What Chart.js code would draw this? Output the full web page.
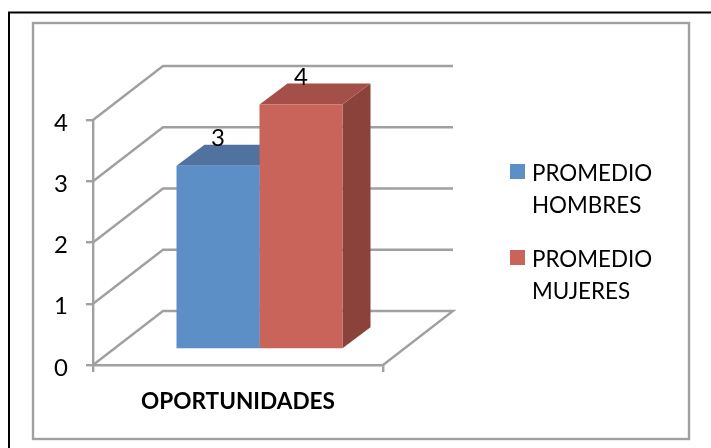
<!DOCTYPE html>
<html><head><meta charset="utf-8">
<style>html,body{margin:0;padding:0;background:#fff}#w{width:711px;height:448px;position:relative}</style>
<script src="https://cdn.jsdelivr.net/npm/chart.js@4"></script>
</head><body><div id="w"><canvas id="c" width="711" height="448"></canvas></div>
<script>
const categories = ['OPORTUNIDADES'];
const hombres = [3];
const mujeres = [4];
const seriesNames = [['PROMEDIO','HOMBRES'],['PROMEDIO','MUJERES']];
const yTicks = [0,1,2,3,4];

const FONT = 'Lato, Carlito, sans-serif';
const GREY = '#a0a0a0';
const LINE = 2.4;
const WALL = {dx:70, dy:-54};      // back wall offset
const FLOOR = {dx:21.5, dy:-15.5}; // bar placement on the floor
const DEPTH = {dx:28, dy:-21};     // bar depth
const FACES = [{top:'#4f729e', side:'#456488'},{top:'#a44f47', side:'#8a423a'}];
const LEGEND = [{box:164, text:174},{box:250, text:260}];

function poly(ctx, pts, fill){
  ctx.beginPath();
  pts.forEach((p,i)=> i ? ctx.lineTo(p[0],p[1]) : ctx.moveTo(p[0],p[1]));
  ctx.closePath(); ctx.fillStyle = fill; ctx.fill();
}

const scene = {
  id:'scene',
  beforeDraw(chart){
    const c = chart.ctx;
    c.save();
    c.strokeStyle = '#000'; c.lineWidth = 2;
    c.beginPath(); c.moveTo(9,448); c.lineTo(9,12.5); c.lineTo(711,12.5); c.stroke();
    c.strokeStyle = GREY; c.lineWidth = 2.4;
    c.strokeRect(33,23,656,416);
    c.restore();
  },
  beforeDatasetsDraw(chart){
    const c = chart.ctx, a = chart.chartArea, y = chart.scales.y;
    c.save();
    c.strokeStyle = GREY; c.lineWidth = LINE;
    yTicks.forEach(t=>{
      const py = y.getPixelForValue(t);
      c.beginPath();
      c.moveTo(a.left,py);
      c.lineTo(a.left+WALL.dx,py+WALL.dy);
      c.lineTo(a.right+WALL.dx,py+WALL.dy);
      if(t===0) c.lineTo(a.right,py);
      c.stroke();
    });
    c.restore();
    c.save();
    c.translate(FLOOR.dx,FLOOR.dy);
    chart.data.datasets.forEach((d,i)=>{
      chart.getDatasetMeta(i).data.forEach(b=>{
        const h = b.width/2, L=b.x-h, R=b.x+h, T=b.y, B=b.base;
        poly(c,[[R,T],[R+DEPTH.dx,T+DEPTH.dy],[R+DEPTH.dx,B+DEPTH.dy],[R,B]],FACES[i].side);
        poly(c,[[L,T],[L+DEPTH.dx,T+DEPTH.dy],[R+DEPTH.dx,T+DEPTH.dy],[R,T]],FACES[i].top);
      });
    });
  },
  afterDatasetsDraw(chart){
    const c = chart.ctx;
    c.fillStyle = '#000';
    c.font = '24px '+FONT;
    c.textAlign='center'; c.textBaseline='middle';
    chart.data.datasets.forEach((d,i)=>{
      chart.getDatasetMeta(i).data.forEach((b,j)=>{
        c.fillText(String(d.data[j]), b.x, b.y-27);
      });
    });
    c.restore();
  },
  afterDraw(chart){
    const c = chart.ctx;
    c.save();
    c.textAlign='left'; c.textBaseline='middle';
    c.font='22.4px '+FONT;
    chart.data.datasets.forEach((d,i)=>{
      c.fillStyle=d.backgroundColor;
      c.fillRect(510,LEGEND[i].box,15,15);
      c.fillStyle='#000';
      seriesNames[i].forEach((s,k)=>c.fillText(s,532,LEGEND[i].text+k*32));
    });
    c.restore();
  }
};

new Chart(document.getElementById('c'),{
  type:'bar',
  data:{labels:categories,datasets:[
    {label:seriesNames[0].join(' '),data:hombres,backgroundColor:'#5b8fc5',clip:false},
    {label:seriesNames[1].join(' '),data:mujeres,backgroundColor:'#c9645b',clip:false}
  ]},
  options:{
    responsive:false,animation:false,
    layout:{padding:{top:120,right:328,bottom:0,left:0}},
    datasets:{bar:{categoryPercentage:166/290,barPercentage:1}},
    plugins:{legend:{display:false},title:{display:false},tooltip:{enabled:false}},
    scales:{
      x:{
        afterFit(s){s.height=83;},
        border:{color:GREY,width:LINE},
        grid:{drawOnChartArea:false,color:GREY,lineWidth:LINE,tickLength:7},
        ticks:{color:'#000',font:{family:FONT,size:22.6,weight:'bold'},padding:16,maxRotation:0}
      },
      y:{
        min:0,max:4,
        afterFit(s){s.width=93;},
        afterBuildTicks(s){s.ticks=yTicks.map(v=>({value:v}));},
        border:{color:GREY,width:LINE},
        grid:{drawOnChartArea:false,color:GREY,lineWidth:LINE,tickLength:7},
        ticks:{color:'#000',font:{family:FONT,size:24},padding:18,labelOffset:3}
      }
    }
  },
  plugins:[scene]
});
</script></body></html>
